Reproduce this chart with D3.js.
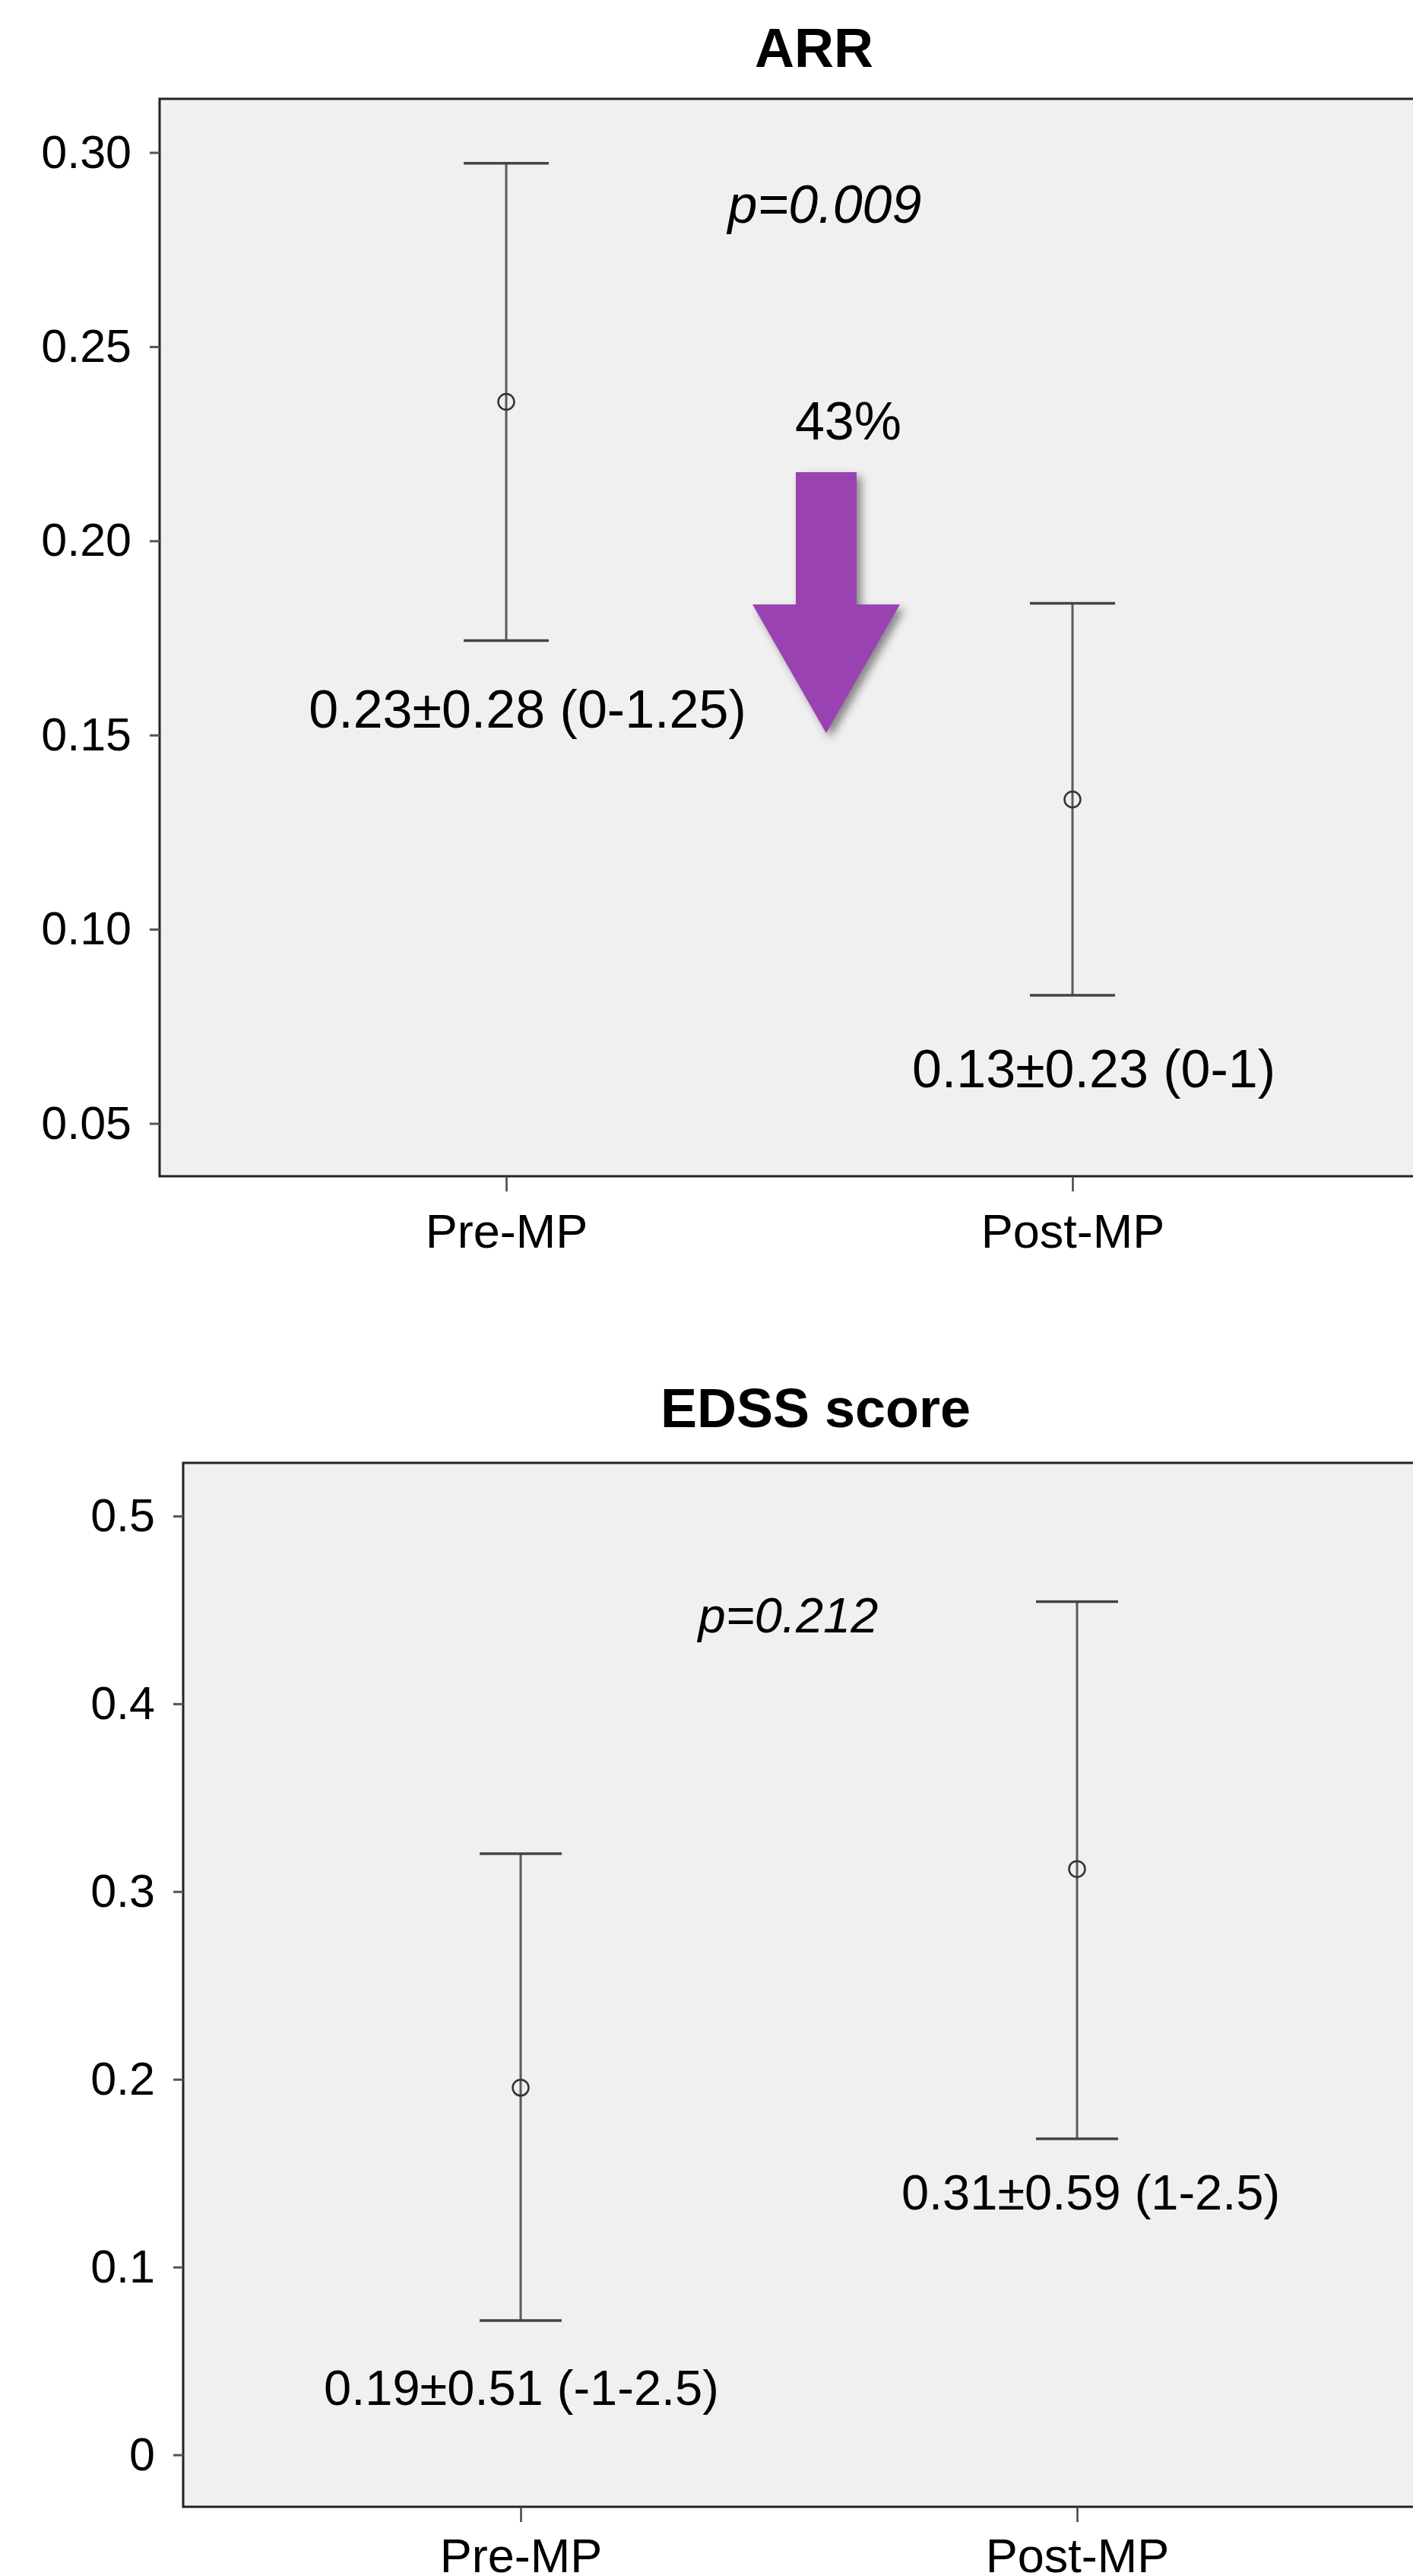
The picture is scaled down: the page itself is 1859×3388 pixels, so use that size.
<!DOCTYPE html>
<html>
  <head>
    <meta charset="utf-8" />
    <title>ARR and EDSS score, pre/post MP</title>
    <style>
      body { margin: 0; background: #fff; }
      svg text { font-family: 'Liberation Sans', Arial, Helvetica, sans-serif; fill: #000; }
      .frame { fill: #f0f0f0; }
      .border { stroke: #222; stroke-width: 3px; fill: none; }
      .whisker { stroke: #5a5a5a; stroke-width: 3px; }
      .cap { stroke: #444; stroke-width: 3.5px; }
      .mean { fill: none; stroke: #333; stroke-width: 2.5px; }
      .title { font-weight: bold; text-anchor: middle; }
      .note { text-anchor: middle; }
    </style>
    <script src="https://d3js.org/d3.v7.min.js"></script>
  </head>
  <body>
    <svg width="1859" height="3388"></svg>
    <script>
      // categories
      var groups = ['Pre-MP', 'Post-MP']

      // ARR: mean with interval
      var arrMean = [0.2358, 0.1334]
      var arrLow = [0.1743, 0.083]
      var arrHigh = [0.2972, 0.1839]
      var arrTicks = [0.05, 0.1, 0.15, 0.2, 0.25, 0.3]
      var arrLabels = ['0.23±0.28 (0-1.25)', '0.13±0.23 (0-1)']

      // EDSS score
      var edssMean = [0.1955, 0.312]
      var edssLow = [0.0715, 0.1683]
      var edssHigh = [0.3202, 0.4544]
      var edssTicks = [0, 0.1, 0.2, 0.3, 0.4, 0.5]
      var edssLabels = ['0.19±0.51 (-1-2.5)', '0.31±0.59 (1-2.5)']

      var svg = d3.select('svg')

      // drop shadow for the arrow
      var f = svg.append('defs').append('filter').attr('id', 'shadow')
        .attr('x', '-30%').attr('y', '-30%').attr('width', '160%').attr('height', '160%')
      f.append('feDropShadow').attr('dx', 6).attr('dy', 6)
        .attr('stdDeviation', 6).attr('flood-color', '#000').attr('flood-opacity', 0.45)

      function panel(opt) {
        var g = svg.append('g')
        var x = d3.scalePoint().domain(groups).range(opt.xRange)
        var y = d3.scaleLinear().domain(opt.yDomain).range([opt.bottom, opt.top])

        g.append('rect').attr('class', 'frame')
          .attr('x', opt.left).attr('y', opt.top)
          .attr('width', 1900 - opt.left).attr('height', opt.bottom - opt.top)
        g.append('path').attr('class', 'border')
          .attr('d', 'M1900,' + opt.top + 'H' + opt.left + 'V' + opt.bottom + 'H1900')

        // y axis
        var ya = g.append('g').attr('transform', 'translate(' + opt.left + ',0)')
          .call(d3.axisLeft(y).tickValues(opt.ticks).tickFormat(opt.fmt)
            .tickSize(13).tickPadding(24))
        ya.select('.domain').remove()
        ya.selectAll('line').attr('stroke', '#555').attr('stroke-width', 3)
        ya.selectAll('text').style('font-size', '61px').attr('fill', '#000')

        // x axis
        var xa = g.append('g').attr('transform', 'translate(0,' + opt.bottom + ')')
          .call(d3.axisBottom(x).tickSize(20).tickPadding(opt.xPad))
        xa.select('.domain').remove()
        xa.selectAll('line').attr('stroke', '#444').attr('stroke-width', 2.5)
        xa.selectAll('text').style('font-size', '63px').attr('fill', '#000')

        // title
        g.append('text').attr('class', 'title')
          .attr('x', opt.titleX).attr('y', opt.titleY)
          .style('font-size', '72px').text(opt.title)

        var rows = groups.map(function (d, i) {
          return { g: d, m: opt.mean[i], lo: opt.low[i], hi: opt.high[i], label: opt.labels[i], pos: opt.labelPos[i] }
        })

        g.selectAll('.whisker').data(rows).enter().append('line').attr('class', 'whisker')
          .attr('x1', function (d) { return x(d.g) }).attr('x2', function (d) { return x(d.g) })
          .attr('y1', function (d) { return y(d.lo) }).attr('y2', function (d) { return y(d.hi) })

        var caps = []
        rows.forEach(function (d) { caps.push({ g: d.g, v: d.lo }, { g: d.g, v: d.hi }) })
        g.selectAll('.cap').data(caps).enter().append('line').attr('class', 'cap')
          .attr('x1', function (d) { return x(d.g) - opt.capW }).attr('x2', function (d) { return x(d.g) + opt.capW })
          .attr('y1', function (d) { return y(d.v) }).attr('y2', function (d) { return y(d.v) })

        g.selectAll('.mean').data(rows).enter().append('circle').attr('class', 'mean')
          .attr('cx', function (d) { return x(d.g) }).attr('cy', function (d) { return y(d.m) })
          .attr('r', 10.5)

        g.selectAll('.vlabel').data(rows).enter().append('text').attr('class', 'note')
          .attr('x', function (d) { return x(d.g) + d.pos[0] })
          .attr('y', function (d) { return y(d.pos[1]) })
          .style('font-size', opt.noteSize + 'px')
          .text(function (d) { return d.label })

        g.append('text').attr('class', 'note')
          .attr('x', opt.pX).attr('y', y(opt.pY))
          .style('font-size', opt.pSize + 'px').style('font-style', 'italic')
          .text(opt.pText)

        return { g: g, x: x, y: y }
      }

      var arrPanel = panel({
        title: 'ARR', titleX: 1071, titleY: 88,
        left: 210, top: 130, bottom: 1547, xRange: [666, 1411], xPad: 29,
        yDomain: [0.0364, 0.3138], ticks: arrTicks, fmt: d3.format('.2f'),
        mean: arrMean, low: arrLow, high: arrHigh, capW: 56,
        labels: arrLabels, labelPos: [[28, 0.1519], [28, 0.0593]], noteSize: 70,
        pX: 1085, pY: 0.2819, pText: 'p=0.009', pSize: 70
      })

      // reduction arrow between the two groups
      var ax = 1087
      var ay = arrPanel.y
      arrPanel.g.append('text').attr('class', 'note')
        .attr('x', 1116).attr('y', ay(0.226))
        .style('font-size', '70px').text('43%')
      arrPanel.g.append('path')
        .attr('d', d3.line()([
          [ax - 40, ay(0.2177)], [ax + 40, ay(0.2177)], [ax + 40, ay(0.1836)],
          [ax + 97, ay(0.1836)], [ax, ay(0.1505)], [ax - 97, ay(0.1836)],
          [ax - 40, ay(0.1836)]
        ]) + 'Z')
        .attr('fill', '#9b42b2')
        .attr('filter', 'url(#shadow)')

      panel({
        title: 'EDSS score', titleX: 1073, titleY: 1877,
        left: 241, top: 1924, bottom: 3297, xRange: [685, 1417], xPad: 21,
        yDomain: [-0.0277, 0.5283], ticks: edssTicks, fmt: d3.format('~g'),
        mean: edssMean, low: edssLow, high: edssHigh, capW: 54,
        labels: edssLabels, labelPos: [[1, 0.0264], [18, 0.1305]], noteSize: 65,
        pX: 1037, pY: 0.438, pText: 'p=0.212', pSize: 65
      })
    </script>
  </body>
</html>
